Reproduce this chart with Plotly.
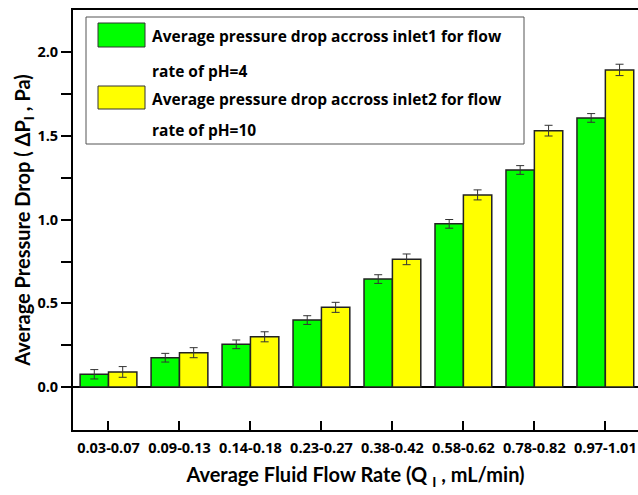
import plotly.graph_objects as go

categories = ["0.03-0.07", "0.09-0.13", "0.14-0.18", "0.23-0.27",
              "0.38-0.42", "0.58-0.62", "0.78-0.82", "0.97-1.01"]
ph4_values = [0.076, 0.175, 0.255, 0.400, 0.645, 0.975, 1.297, 1.608]
ph4_errors = [0.028, 0.026, 0.026, 0.026, 0.026, 0.026, 0.026, 0.026]
ph10_values = [0.090, 0.205, 0.300, 0.476, 0.763, 1.148, 1.532, 1.895]
ph10_errors = [0.032, 0.030, 0.030, 0.030, 0.032, 0.030, 0.032, 0.034]

legend_lines_1 = ["Average pressure drop accross inlet1 for flow", "rate of pH=4"]
legend_lines_2 = ["Average pressure drop accross inlet2 for flow", "rate of pH=10"]

TITLE_FONT = "Lato"
TEXT_FONT = "Open Sans"
W, H = 638, 495
ML, MR, MT, MB = 73, 0, 10, 65
PW, PH = W - ML - MR, H - MT - MB

def px_x(p):
    return (p - ML) / PW

def px_y(p):
    return (H - MB - p) / PH

fig = go.Figure()
fig.add_trace(go.Bar(
    x=categories, y=ph4_values, name="pH=4",
    marker=dict(color="#00ff00", line=dict(color="#222222", width=1.5)),
    error_y=dict(type="data", array=ph4_errors, color="#333333", thickness=1, width=4),
))
fig.add_trace(go.Bar(
    x=categories, y=ph10_values, name="pH=10",
    marker=dict(color="#ffff00", line=dict(color="#222222", width=1.5)),
    error_y=dict(type="data", array=ph10_errors, color="#333333", thickness=1, width=4),
))

shapes = [
    dict(type="rect", xref="paper", yref="paper", x0=px_x(86), x1=px_x(524), y0=px_y(144), y1=px_y(17),
         line=dict(color="#555555", width=1), fillcolor="white", layer="above"),
    dict(type="rect", xref="paper", yref="paper", x0=px_x(98), x1=px_x(145), y0=px_y(47), y1=px_y(23),
         line=dict(color="#333333", width=1), fillcolor="#00ff00", layer="above"),
    dict(type="rect", xref="paper", yref="paper", x0=px_x(98), x1=px_x(145), y0=px_y(109), y1=px_y(86),
         line=dict(color="#333333", width=1), fillcolor="#ffff00", layer="above"),
]
annotations = []
for text, yy in zip(legend_lines_1 + legend_lines_2, [36, 71, 99, 130]):
    annotations.append(dict(
        text="<b>" + text + "</b>", xref="paper", yref="paper", x=px_x(150), y=px_y(yy),
        xanchor="left", yanchor="middle", showarrow=False,
        font=dict(family=TEXT_FONT, size=15.5, color="black"),
    ))

fig.update_layout(
    width=W, height=H,
    margin=dict(l=ML, r=MR, t=MT, b=MB, autoexpand=False),
    plot_bgcolor="white", paper_bgcolor="white",
    barmode="group", bargap=0.2, bargroupgap=0,
    showlegend=False,
    shapes=shapes, annotations=annotations,
    font=dict(family=TEXT_FONT, color="black"),
)
fig.update_xaxes(
    range=[-0.5, 7.46], automargin=False,
    showline=True, linecolor="black", linewidth=2, mirror=True,
    ticks="inside", ticklen=9, tickwidth=1.5, tickcolor="black",
    ticklabelstandoff=4,
    tickfont=dict(family=TEXT_FONT, size=14.5, color="black", weight="bold"),
    title=dict(text="<b>Average Fluid Flow Rate (Q <sub>I</sub> , mL/min)</b>",
               font=dict(family=TITLE_FONT, size=20, color="black"), standoff=12),
    showgrid=False,
)
fig.update_yaxes(
    range=[-0.257, 2.253], automargin=False,
    tickvals=[0, 0.5, 1.0, 1.5, 2.0], ticktext=["0.0", "0.5", "1.0", "1.5", "2.0"],
    showline=True, linecolor="black", linewidth=2, mirror=False,
    ticks="outside", ticklen=10, tickwidth=1.5, tickcolor="black",
    minor=dict(tickvals=[0.25, 0.75, 1.25, 1.75], ticks="outside", ticklen=10, tickwidth=1.5, tickcolor="black"),
    tickfont=dict(family=TEXT_FONT, size=14.5, color="black", weight="bold"),
    title=dict(text="<b>Average Pressure Drop ( ΔP<sub>I</sub> , Pa)</b>",
               font=dict(family=TITLE_FONT, size=20, color="black"), standoff=1),
    showgrid=False,
    zeroline=True, zerolinecolor="black", zerolinewidth=1.5,
)

fig.write_html("out.html", config={"displayModeBar": False},
               post_script="document.body.style.margin='0';document.body.style.padding='0';")
